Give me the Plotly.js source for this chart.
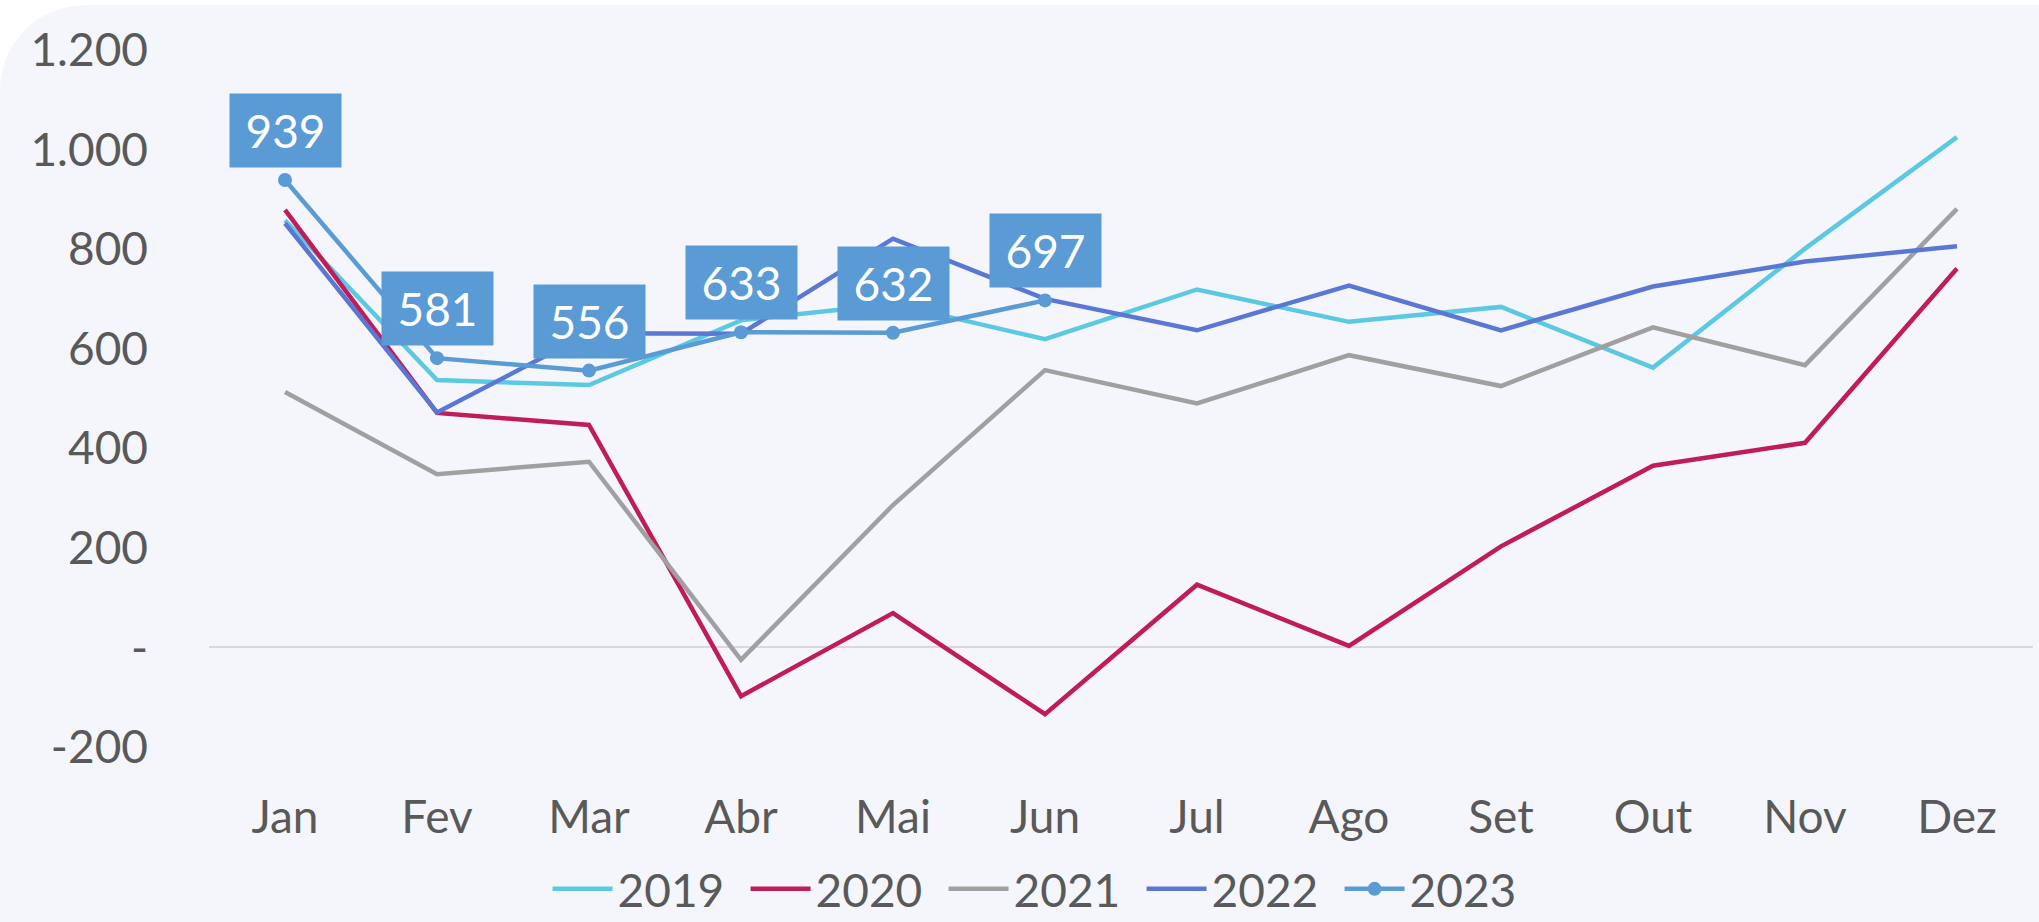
<!DOCTYPE html>
<html>
<head>
<meta charset="utf-8">
<script src="https://cdn.plot.ly/plotly-3.0.1.min.js"></script>
<style>
  html, body { margin: 0; padding: 0; background: #ffffff; width: 2039px; height: 922px; overflow: hidden; }
  #panel { position: absolute; left: 0; top: 5px; width: 2039px; height: 917px; background: #F5F6FB; border-top-left-radius: 85px; }
  #chart { position: absolute; left: 0; top: 0; width: 2039px; height: 922px; }
</style>
</head>
<body>
<div id="panel"></div>
<div id="chart"></div>
<script>
const months = ["Jan", "Fev", "Mar", "Abr", "Mai", "Jun", "Jul", "Ago", "Set", "Out", "Nov", "Dez"];
const seriesNames = ["2019", "2020", "2021", "2022", "2023"];
const v2019 = [858, 537, 527, 657, 690, 619, 719, 654, 684, 562, 801, 1025];
const v2020 = [879, 471, 447, -98, 69, -134, 126, 3, 203, 365, 411, 761];
const v2021 = [513, 348, 373, -25, 286, 557, 490, 587, 525, 643, 567, 881];
const v2022 = [852, 472, 631, 630, 821, 700, 637, 727, 637, 725, 775, 806];
const v2023 = [939, 581, 556, 633, 632, 697];
const yTickVals = [-200, 0, 200, 400, 600, 800, 1000, 1200];
const yTickText = ["-200", "-", "200", "400", "600", "800", "1.000", "1.200"];
const colors = ["#5BC9E1", "#C01C58", "#A0A0A0", "#5A78D3", "#5B9BD5"];

const FONT = "Lato, 'Open Sans', sans-serif";
const allVals = [v2019, v2020, v2021, v2022, v2023];

const traces = allVals.map((vals, i) => {
  const t = {
    type: "scatter",
    mode: i === 4 ? "lines+markers" : "lines",
    name: seriesNames[i],
    x: months.slice(0, vals.length),
    y: vals,
    line: { color: colors[i], width: 4.5 },
    hoverinfo: "skip"
  };
  if (i === 4) t.marker = { color: colors[i], size: 14 };
  return t;
});

const annotations = v2023.map((v, i) => ({
  x: months[i],
  y: v,
  xref: "x",
  yref: "y",
  text: String(v),
  showarrow: false,
  yanchor: "bottom",
  xanchor: "center",
  yshift: 12,
  bgcolor: "#5B9BD5",
  borderpad: 0,
  width: 111,
  height: 73,
  font: { family: FONT, size: 46, color: "#ffffff" }
}));

const layout = {
  width: 2039,
  height: 922,
  paper_bgcolor: "rgba(0,0,0,0)",
  plot_bgcolor: "rgba(0,0,0,0)",
  margin: { l: 209, r: 6, t: 50, b: 175, autoexpand: false },
  font: { family: FONT, size: 46, color: "#595959" },
  showlegend: true,
  legend: {
    orientation: "h",
    x: 0.457,
    xanchor: "center",
    y: -0.256,
    yanchor: "bottom",
    font: { family: FONT, size: 46, color: "#595959" },
    bgcolor: "rgba(0,0,0,0)",
    itemwidth: 60,
    entrywidth: 123,
    entrywidthmode: "pixels",
    traceorder: "normal"
  },
  xaxis: {
    type: "category",
    categoryarray: months,
    range: [-0.5, 11.5],
    showgrid: false,
    zeroline: false,
    showline: false,
    ticks: "",
    ticklabelstandoff: 39,
    tickfont: { family: FONT, size: 46, color: "#595959" },
    fixedrange: true
  },
  yaxis: {
    range: [-200, 1200],
    tickvals: yTickVals,
    ticktext: yTickText,
    showgrid: false,
    zeroline: true,
    zerolinecolor: "#D9D9D9",
    zerolinewidth: 2,
    showline: false,
    ticks: "",
    ticklabelstandoff: 60,
    tickfont: { family: FONT, size: 46, color: "#595959" },
    fixedrange: true
  },
  annotations: annotations
};

Plotly.newPlot("chart", traces, layout, { displayModeBar: false, staticPlot: true });
</script>
</body>
</html>
